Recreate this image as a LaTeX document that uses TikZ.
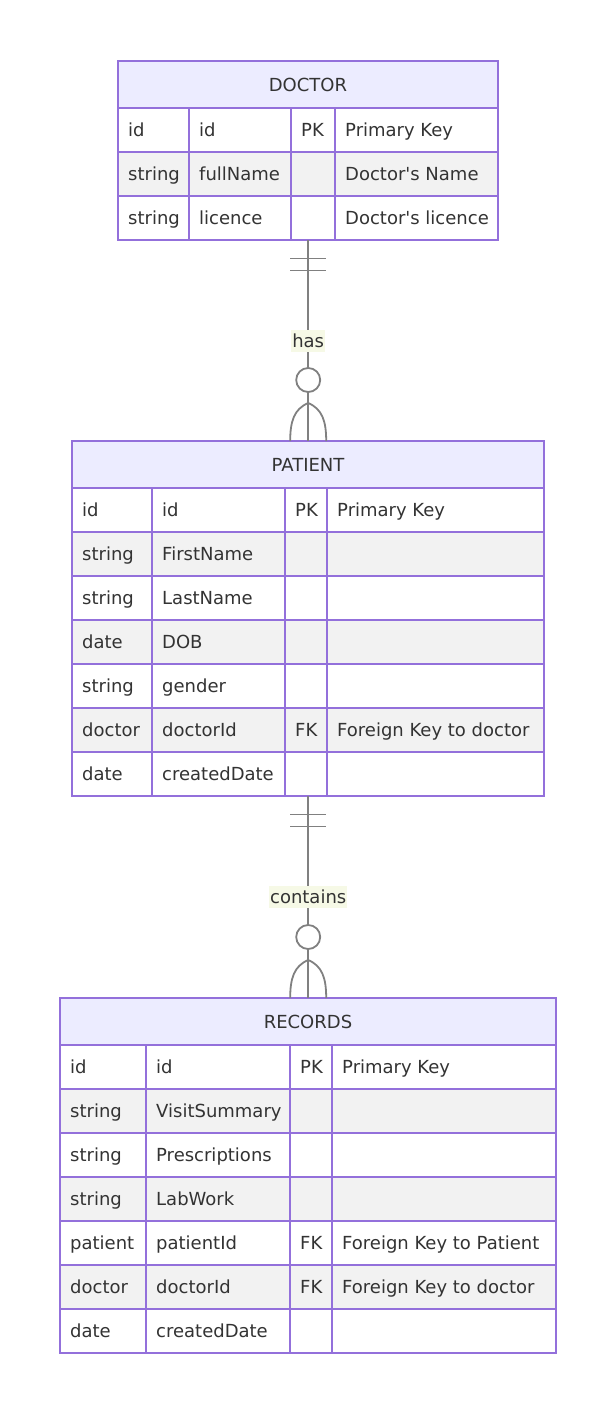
\documentclass[tikz,border=0pt]{standalone}
\usepackage{fontspec}
\setmainfont{DejaVu Sans}
\usepackage{tikz}
\usetikzlibrary{positioning,calc}

\definecolor{erpurple}{HTML}{9370DB}
\definecolor{erhead}{HTML}{ECECFF}
\definecolor{errow}{HTML}{F2F2F2}
\definecolor{erline}{HTML}{808080}
\definecolor{ertext}{HTML}{333333}
\definecolor{erlabel}{HTML}{F6F9E6}

\tikzset{
  every node/.style={text=ertext, font=\fontsize{18}{21}\selectfont},
  entity/.style={inner sep=0pt, anchor=north west},
  header/.style={draw=erpurple, line width=1.6pt, fill=erhead},
  cell/.style={draw=erpurple, line width=1.4pt},
  field/.style={anchor=base west, inner sep=0pt},
  rel/.style={draw=erline, line width=1.8pt},
  rellabel/.style={fill=erlabel, inner xsep=1pt, inner ysep=4pt},
}

\begin{document}
\begin{tikzpicture}[x=1pt, y=-1pt]
\useasboundingbox (0,0) rectangle (615,1414);

% DOCTOR
\node [entity, minimum width=380, minimum height=179] (doctor) at (118,61) {};
\draw [header] (118,61) rectangle (498,108);
\node [anchor=base] (doctor-title) at (308,91) {DOCTOR};
\foreach \t/\n/\k/\c [count=\i] in {id/id/PK/Primary Key,
    string/fullName//Doctor\textquotesingle s Name,
    string/licence//Doctor\textquotesingle s licence} {
  \ifodd\i \def\rf{white}\else \def\rf{errow}\fi
  \pgfmathsetmacro\ya{108+(\i-1)*44}
  \pgfmathsetmacro\yb{\ya+44}
  \foreach \xa/\xb in {118/189, 189/291, 291/335, 335/498}
    \draw [cell, fill=\rf] (\xa,\ya) rectangle (\xb,\yb);
  \node [field] (doctor-\i-type) at (128,\ya+28) {\t};
  \node [field] (doctor-\i-name) at (199,\ya+28) {\n};
  \node [field] (doctor-\i-key) at (301,\ya+28) {\k};
  \node [field] (doctor-\i-note) at (345,\ya+28) {\c};
}

% PATIENT
\node [entity, minimum width=472, minimum height=355] (patient) at (72,441) {};
\draw [header] (72,441) rectangle (544,488);
\node [anchor=base] (patient-title) at (308,471) {PATIENT};
\foreach \t/\n/\k/\c [count=\i] in {id/id/PK/Primary Key,
    string/FirstName//, string/LastName//, date/DOB//, string/gender//,
    doctor/doctorId/FK/Foreign Key to doctor, date/createdDate//} {
  \ifodd\i \def\rf{white}\else \def\rf{errow}\fi
  \pgfmathsetmacro\ya{488+(\i-1)*44}
  \pgfmathsetmacro\yb{\ya+44}
  \foreach \xa/\xb in {72/152, 152/285, 285/327, 327/544}
    \draw [cell, fill=\rf] (\xa,\ya) rectangle (\xb,\yb);
  \node [field] (patient-\i-type) at (82,\ya+28) {\t};
  \node [field] (patient-\i-name) at (162,\ya+28) {\n};
  \node [field] (patient-\i-key) at (295,\ya+28) {\k};
  \node [field] (patient-\i-note) at (337,\ya+28) {\c};
}

% RECORDS
\node [entity, minimum width=496, minimum height=355] (records) at (60,998) {};
\draw [header] (60,998) rectangle (556,1045);
\node [anchor=base] (records-title) at (308,1028) {RECORDS};
\foreach \t/\n/\k/\c [count=\i] in {id/id/PK/Primary Key,
    string/VisitSummary//, string/Prescriptions//, string/LabWork//,
    patient/patientId/FK/Foreign Key to Patient,
    doctor/doctorId/FK/Foreign Key to doctor, date/createdDate//} {
  \ifodd\i \def\rf{white}\else \def\rf{errow}\fi
  \pgfmathsetmacro\ya{1045+(\i-1)*44}
  \pgfmathsetmacro\yb{\ya+44}
  \foreach \xa/\xb in {60/146, 146/290, 290/332, 332/556}
    \draw [cell, fill=\rf] (\xa,\ya) rectangle (\xb,\yb);
  \node [field] (records-\i-type) at (70,\ya+28) {\t};
  \node [field] (records-\i-name) at (156,\ya+28) {\n};
  \node [field] (records-\i-key) at (300,\ya+28) {\k};
  \node [field] (records-\i-note) at (342,\ya+28) {\c};
}

% relationships
\foreach \a/\b/\l in {doctor/patient/has, patient/records/contains} {
  \draw [rel] (\a.south) -- (\b.north)
    node [rellabel, midway] {\l};
  % exactly one
  \draw [rel] ($(\a.south)+(-18,18)$) -- ++(36,0);
  \draw [rel] ($(\a.south)+(-18,30)$) -- ++(36,0);
  % zero or many
  \draw [rel, fill=white] ($(\b.north)+(0,-61)$) circle [radius=12pt];
  \draw [rel] ($(\b.north)+(0,-38)$) .. controls +(-14,6) and +(0,-20) .. ($(\b.north)+(-18,0)$);
  \draw [rel] ($(\b.north)+(0,-38)$) .. controls +(14,6) and +(0,-20) .. ($(\b.north)+(18,0)$);
}
\end{tikzpicture}
\end{document}
